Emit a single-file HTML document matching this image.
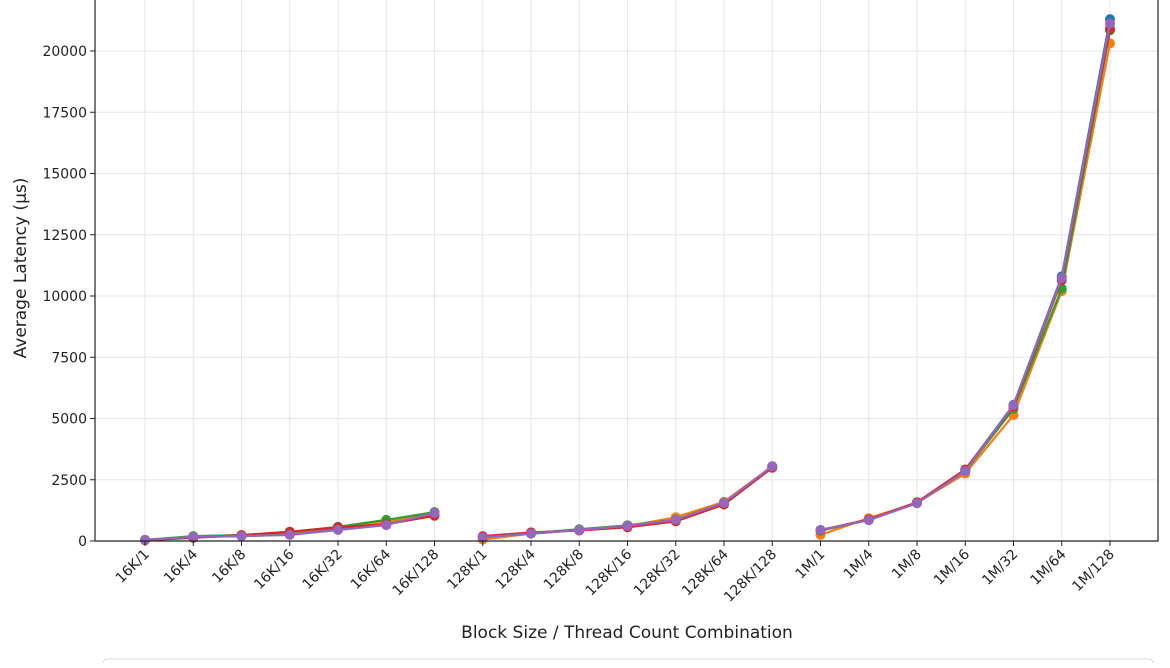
<!DOCTYPE html>
<html><head><meta charset="utf-8">
<style>
body{margin:0;background:#fff;width:1170px;height:663px;overflow:hidden;font-family:"Liberation Sans","DejaVu Sans",sans-serif;}
svg text{font-family:"DejaVu Sans","Liberation Sans",sans-serif;}
</style></head>
<body>
<svg id="chart" width="1170" height="663" xmlns="http://www.w3.org/2000/svg">
<g id="grid"></g>
<g id="series"></g>
<g id="axes"></g>
<text x="627" y="638" font-size="17" text-anchor="middle" fill="#222">Block Size / Thread Count Combination</text>
<text transform="translate(26,268) rotate(-90)" font-size="17" text-anchor="middle" fill="#222">Average Latency (µs)</text>
<rect x="103" y="659" width="1050" height="20" rx="4" fill="#fff" stroke="#d8d8d8"/>
</svg>
<script>
const categories=["16K/1","16K/4","16K/8","16K/16","16K/32","16K/64","16K/128","128K/1","128K/4","128K/8","128K/16","128K/32","128K/64","128K/128","1M/1","1M/4","1M/8","1M/16","1M/32","1M/64","1M/128"];
const groups=[[0,7],[7,14],[14,21]];
const yTicks=[0,2500,5000,7500,10000,12500,15000,17500,20000];
const seriesNames=["s1","s2","s3","s4","s5"];
const seriesColors=["#1f77b4","#ff7f0e","#2ca02c","#d62728","#9467bd"];
const s1=[40,160,200,260,480,680,1150,150,300,450,640,850,1550,3050,450,860,1560,2900,5560,10800,21300];
const s2=[50,180,240,340,560,780,1120,60,300,450,600,970,1600,3050,250,930,1560,2750,5140,10200,20310];
const s3=[40,200,240,360,580,860,1180,150,320,480,640,870,1560,3020,420,860,1560,2850,5400,10300,20850];
const s4=[30,130,240,380,560,680,1030,200,350,430,560,800,1490,2990,440,880,1580,2920,5500,10650,20900];
const s5=[40,170,200,250,450,650,1150,150,300,450,620,860,1560,3050,450,850,1540,2850,5550,10730,21120];
const data=[s1,s2,s3,s4,s5];
const NS="http://www.w3.org/2000/svg";
const L=95,R=1158,B=541;
function xs(i){return 145+i*48.25;}
function ys(v){return B-v*(490/20000);}
function mk(t,a,p){const e=document.createElementNS(NS,t);for(const k in a)e.setAttribute(k,a[k]);p.appendChild(e);return e;}
const grid=document.getElementById('grid'),axes=document.getElementById('axes'),ser=document.getElementById('series');
categories.forEach((c,i)=>{
 const g=mk('line',{x1:xs(i),x2:xs(i),y1:0,y2:B,stroke:'#e6e6e6','stroke-width':1},grid);
 
 
 const t=mk('line',{x1:xs(i),x2:xs(i),y1:B,y2:B+5,stroke:'#222','stroke-width':1},axes);
 
 
 const l=mk('text',{transform:`translate(${xs(i)+5},${B+14}) rotate(-45)`,'font-size':14,'text-anchor':'end',fill:'#222'},axes);
 l.textContent=c;
 
 
});
yTicks.forEach(v=>{
 const g=mk('line',{x1:L,x2:R,y1:ys(v),y2:ys(v),stroke:'#e6e6e6','stroke-width':1},grid);
 
 
 const t=mk('line',{x1:L-5,x2:L,y1:ys(v),y2:ys(v),stroke:'#222'},axes);
 
 
 const l=mk('text',{x:L-8,y:ys(v)+5,'font-size':14,'text-anchor':'end',fill:'#222'},axes);
 l.textContent=v;
 
 
});
const sp=mk('path',{d:`M${L},0V${B}H${R}V0`,fill:'none',stroke:'#222','stroke-width':1.2},axes);


data.forEach((s,k)=>{
 groups.forEach(([a,b])=>{
  let d='';for(let i=a;i<b;i++)d+=(i==a?'M':'L')+xs(i)+','+ys(s[i]);
  const p=mk('path',{d,fill:'none',stroke:seriesColors[k],'stroke-width':2.2},ser);
  
  
  for(let i=a;i<b;i++){
   const c=mk('circle',{cx:xs(i),cy:ys(s[i]),r:5,fill:seriesColors[k]},ser);
   
   
  }
 });
});
</script>
</body></html>
